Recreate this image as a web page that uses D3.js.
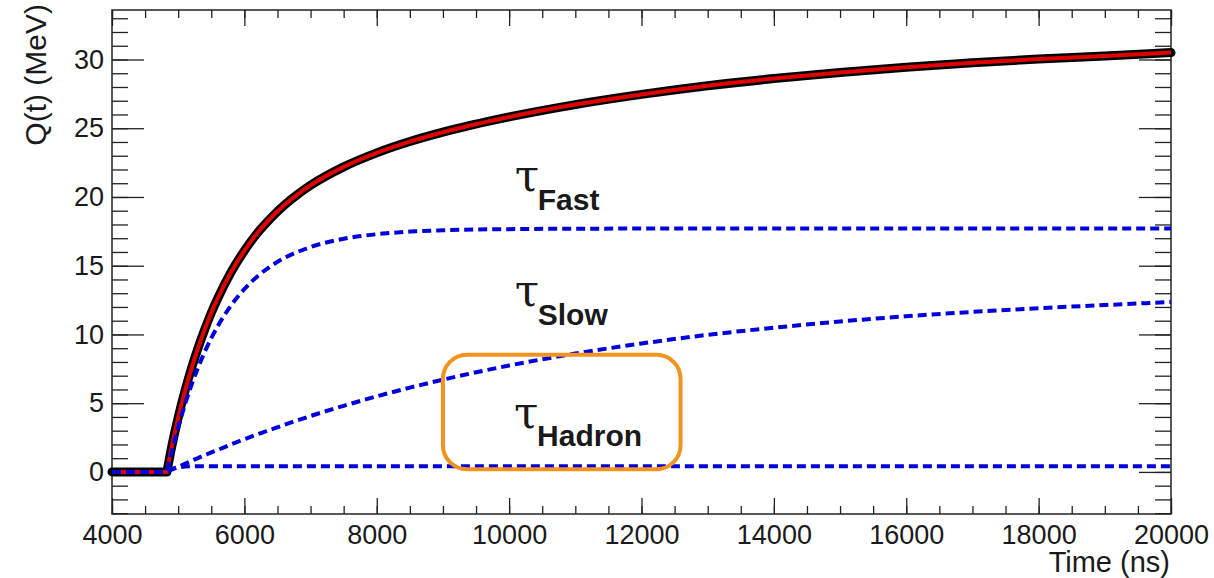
<!DOCTYPE html>
<html>
<head>
<meta charset="utf-8">
<script src="https://cdn.jsdelivr.net/npm/d3@7"></script>
<style>
  body { margin: 0; background: #fff; }
  text { font-family: "Liberation Sans", Arial, sans-serif; fill: #1a1a1a; }
</style>
</head>
<body>
<svg id="chart" width="1214" height="578"></svg>
<script>
// time samples (ns) and the curves (MeV)
const times    = [4000, 4830, 4900, 5000, 5100, 5200, 5300, 5400, 5500, 5600, 5800, 6000, 6200, 6400, 6600, 6800, 7000, 7500, 8000, 8500, 9000, 10000, 11000, 12000, 13000, 14000, 15000, 16000, 17000, 18000, 19000, 20000];
const qTotal   = [0, 0, 1.78, 3.95, 5.85, 7.52, 9.01, 10.35, 11.57, 12.65, 14.54, 16.09, 17.40, 18.47, 19.39, 20.17, 20.85, 22.19, 23.21, 24.03, 24.71, 25.82, 26.72, 27.46, 28.09, 28.61, 29.06, 29.44, 29.76, 30.03, 30.26, 30.50];
const qFast    = [0, 0, 1.41, 3.24, 4.87, 6.31, 7.58, 8.72, 9.73, 10.62, 12.12, 13.30, 14.24, 14.97, 15.55, 16.00, 16.36, 16.96, 17.29, 17.48, 17.58, 17.66, 17.69, 17.70, 17.70, 17.70, 17.70, 17.70, 17.70, 17.70, 17.70, 17.70];
const qSlow    = [0, 0, 0.16, 0.37, 0.59, 0.80, 1.01, 1.21, 1.42, 1.61, 2.00, 2.37, 2.74, 3.08, 3.42, 3.75, 4.07, 4.81, 5.50, 6.13, 6.71, 7.74, 8.61, 9.34, 9.97, 10.49, 10.94, 11.32, 11.64, 11.91, 12.14, 12.36];
const qHadron  = [0, 0, 0.21, 0.34, 0.39, 0.41, 0.42, 0.42, 0.42, 0.42, 0.42, 0.42, 0.42, 0.42, 0.42, 0.42, 0.42, 0.42, 0.42, 0.42, 0.42, 0.42, 0.42, 0.42, 0.42, 0.42, 0.42, 0.42, 0.42, 0.42, 0.42, 0.42];

const xMajor = [4000, 6000, 8000, 10000, 12000, 14000, 16000, 18000, 20000];
const yMajor = [0, 5, 10, 15, 20, 25, 30];

// component labels: tau anchor (time, charge) and subscript
const labelNames = ["Fast", "Slow", "Hadron"];
const labelT     = [10100, 10100, 10090];
const labelQ     = [20.4, 12.05, 3.2];

// highlighted region around the hadron label
const boxT = [9000, 12590];
const boxQ = [0.2, 8.52];

const svg = d3.select("#chart");
const x = d3.scaleLinear().domain([4000, 20000]).range([112, 1171]);
const y = d3.scaleLinear().domain([-3.06, 33.6]).range([514, 10]);

const xMinor = d3.range(4000, 20001, 500);
const yMinor = d3.range(-3, 34, 1);

// AXES (ROOT style, ticks pointing inward on all four sides)
svg.append("g").attr("transform", "translate(0,514)")
    .call(d3.axisBottom(x).tickValues(xMinor).tickSize(-8).tickFormat(""));
svg.append("g").attr("transform", "translate(0,514)")
    .call(d3.axisBottom(x).tickValues(xMajor).tickSize(-16).tickPadding(11).tickFormat(d3.format("d")));
svg.append("g").attr("transform", "translate(0,10)")
    .call(d3.axisTop(x).tickValues(xMinor).tickSize(-8).tickFormat(""));
svg.append("g").attr("transform", "translate(0,10)")
    .call(d3.axisTop(x).tickValues(xMajor).tickSize(-16).tickFormat(""));
svg.append("g").attr("transform", "translate(112,0)")
    .call(d3.axisLeft(y).tickValues(yMinor).tickSize(-16).tickFormat(""));
svg.append("g").attr("transform", "translate(112,0)")
    .call(d3.axisLeft(y).tickValues(yMajor).tickSize(-32).tickPadding(8).tickFormat(d3.format("d")));
svg.append("g").attr("transform", "translate(1171,0)")
    .call(d3.axisRight(y).tickValues(yMinor).tickSize(-16).tickFormat(""));
svg.append("g").attr("transform", "translate(1171,0)")
    .call(d3.axisRight(y).tickValues(yMajor).tickSize(-32).tickFormat(""));

svg.selectAll(".domain").remove();
svg.selectAll(".tick line").attr("stroke", "#222").attr("stroke-width", 1.3);
svg.selectAll(".tick text").attr("font-size", 27).attr("fill", "#1a1a1a")
    .style("font-family", "'Liberation Sans', Arial, sans-serif");

svg.append("rect")
    .attr("x", 112).attr("y", 10).attr("width", 1171 - 112).attr("height", 504)
    .attr("fill", "none").attr("stroke", "#222").attr("stroke-width", 1.5);

// AXIS TITLES
svg.append("text")
    .attr("x", 1170).attr("y", 572).attr("text-anchor", "end")
    .attr("font-size", 29).text("Time (ns)");
svg.append("text")
    .attr("transform", "translate(46,4) rotate(-90)")
    .attr("text-anchor", "end").attr("font-size", 30).text("Q(t) (MeV)");

// CURVES: flat baseline then a smooth rise, kept as one path so the corner stays sharp
const line = vals => {
    const rise = d3.line()
        .x(i => x(times[i]))
        .y(i => y(vals[i]))
        .curve(d3.curveMonotoneX)(d3.range(1, times.length));
    return `M${x(times[0])},${y(vals[0])}L` + rise.slice(1);
};

svg.append("path").attr("d", line(qTotal))
    .attr("fill", "none").attr("stroke", "#000").attr("stroke-width", 9)
    .attr("stroke-linecap", "round").attr("stroke-linejoin", "round");
svg.append("path").attr("d", line(qTotal))
    .attr("fill", "none").attr("stroke", "#e00000").attr("stroke-width", 4)
    .attr("stroke-linejoin", "round");

[qFast, qSlow, qHadron].forEach(vals => {
    svg.append("path").attr("d", line(vals))
        .attr("fill", "none").attr("stroke", "#0000dc").attr("stroke-width", 4)
        .attr("stroke-dasharray", "9,5");
});

// LABELS
labelNames.forEach((name, i) => {
    const g = svg.append("g")
        .attr("transform", `translate(${x(labelT[i])},${y(labelQ[i])})`);
    g.append("text").attr("x", -1).attr("y", 0)
        .style("font-family", "'DejaVu Serif', 'Liberation Serif', serif")
        .attr("font-size", 44).attr("fill", "#000").text("τ");
    g.append("text").attr("x", 22).attr("y", 18.5)
        .attr("font-size", 30).attr("font-weight", "bold").attr("fill", "#000").text(name);
});

// HIGHLIGHT BOX
svg.append("rect")
    .attr("x", x(boxT[0])).attr("y", y(boxQ[1]))
    .attr("width", x(boxT[1]) - x(boxT[0])).attr("height", y(boxQ[0]) - y(boxQ[1]))
    .attr("rx", 24).attr("ry", 24)
    .attr("fill", "none").attr("stroke", "#f3931f").attr("stroke-width", 4);
</script>
</body>
</html>
